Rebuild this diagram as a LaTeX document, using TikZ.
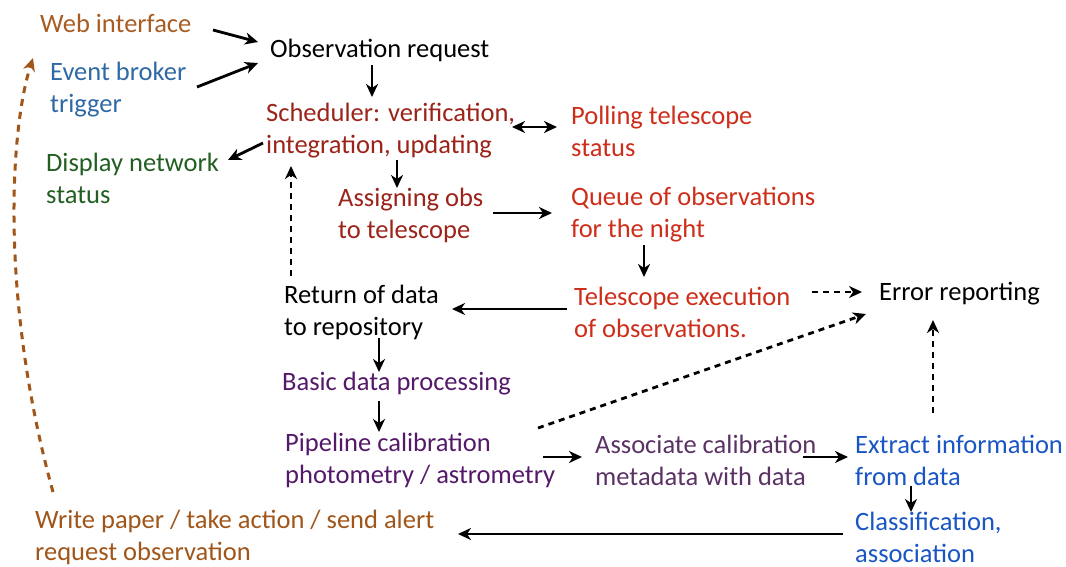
\documentclass[tikz,border=0pt]{standalone}
\usepackage{fontspec}
\setmainfont{Carlito}
\usetikzlibrary{arrows.meta,calc}
\definecolor{cweb}{RGB}{168,92,34}
\definecolor{cbroker}{RGB}{46,105,165}
\definecolor{cdred}{RGB}{155,35,25}
\definecolor{cred}{RGB}{205,45,25}
\definecolor{cgreen}{RGB}{35,95,35}
\definecolor{cpurple}{RGB}{85,25,105}
\definecolor{cassoc}{RGB}{90,50,100}
\definecolor{cblue}{RGB}{25,85,195}
\definecolor{cwrite}{RGB}{160,85,25}
\begin{document}
\begin{tikzpicture}[x=1pt,y=-1pt,
  txt/.style={anchor=west,inner sep=0pt,align=left,font=\fontsize{26.5}{32}\selectfont},
  arr/.style={-{Stealth[length=13pt,width=12pt,inset=4pt]},line width=2.8pt},
  darr/.style={arr,dash pattern=on 6pt off 5pt},
  barr/.style={-{Stealth[length=13pt,width=12pt,inset=4pt]},line width=3pt,cwrite,dash pattern=on 7pt off 6pt}]
\useasboundingbox (0,0) rectangle (1066,567);
\node[txt,text=cweb] (web) at (40,23) {Web interface};
\node[txt] (obs) at (270,50) {Observation request};
\node[txt,text=cbroker] (broker) at (50,90) {Event broker\\trigger};
\node[txt,text=cdred] (sched) at (266,131) {Scheduler: verification,\\integration, updating};
\node[txt,text=cred] (poll) at (571,131) {Polling telescope\\status};
\node[txt,text=cgreen] (disp) at (46,178) {Display network\\status};
\node[txt,text=cdred] (assign) at (338,215) {Assigning obs\\to telescope};
\node[txt,text=cred] (queue) at (571,215) {Queue of observations\\for the night};
\node[txt] (ret) at (284,312) {Return of data\\to repository};
\node[txt,text=cred] (exec) at (574,312) {Telescope execution\\of observations.};
\node[txt] (err) at (879,294) {Error reporting};
\node[txt,text=cpurple] (basic) at (282,384) {Basic data processing};
\node[txt,text=cpurple] (pipe) at (285,460) {Pipeline calibration\\photometry / astrometry};
\node[txt,text=cassoc] (assoc) at (595,460) {Associate calibration\\metadata with data};
\node[txt,text=cblue] (extract) at (855,460) {Extract information\\from data};
\node[txt,text=cblue] (class) at (855,537) {Classification,\\association};
\node[txt,text=cwrite] (write) at (35,537) {Write paper / take action / send alert\\request observation};

\draw[arr] ($(web.west)+(173,7)$) -- ($(obs.west)+(-12,-8)$);
\draw[arr] ($(broker.west)+(147,-3)$) -- ($(obs.west)+(-12,13)$);
\draw[arr] ($(obs.west)+(102,15)$) -- ($(sched.west)+(106,-34)$);
\draw[arr,{Stealth[length=13pt,width=12pt,inset=4pt]}-{Stealth[length=13pt,width=12pt,inset=4pt]}] ($(sched.west)+(246,-4)$) -- ($(poll.west)+(-14,-4)$);
\draw[arr] ($(sched.west)+(-3,12)$) -- ($(disp.west)+(182,-18)$);
\draw[arr] ($(sched.west)+(131,29)$) -- ($(assign.west)+(59,-27)$);
\draw[arr] ($(assign.west)+(155,-2)$) -- ($(queue.west)+(-19,-2)$);
\draw[arr] ($(queue.west)+(73,30)$) -- ($(exec.west)+(70,-35)$);
\draw[arr] ($(exec.west)+(-7,-3)$) -- ($(ret.west)+(168,-3)$);
\draw[darr] ($(exec.west)+(238,-20)$) -- ($(err.west)+(-17,-2)$);
\draw[darr] ($(ret.west)+(7,-36)$) -- ($(sched.west)+(25,35)$);
\draw[arr] ($(ret.west)+(95,26)$) -- ($(basic.west)+(97,-12)$);
\draw[arr] ($(basic.west)+(97,17)$) -- ($(pipe.west)+(94,-28)$);
\draw[arr] ($(pipe.west)+(258,-3)$) -- ($(assoc.west)+(-13,-3)$);
\draw[darr] ($(pipe.west)+(253,-32)$) -- ($(err.west)+(-13,20)$);
\draw[arr] ($(assoc.west)+(208,-3)$) -- ($(extract.west)+(-7,-3)$);
\draw[darr] ($(extract.west)+(78,-47)$) -- ($(err.west)+(54,26)$);
\draw[arr] ($(extract.west)+(56,26)$) -- ($(class.west)+(56,-25)$);
\draw[arr] ($(class.west)+(-12,-3)$) -- ($(write.west)+(423,-3)$);
\draw[barr] ($(write.west)+(18,-45)$) .. controls (0,300) and (10,130) .. ($(web.west)+(-7,35)$);
\end{tikzpicture}
\end{document}
